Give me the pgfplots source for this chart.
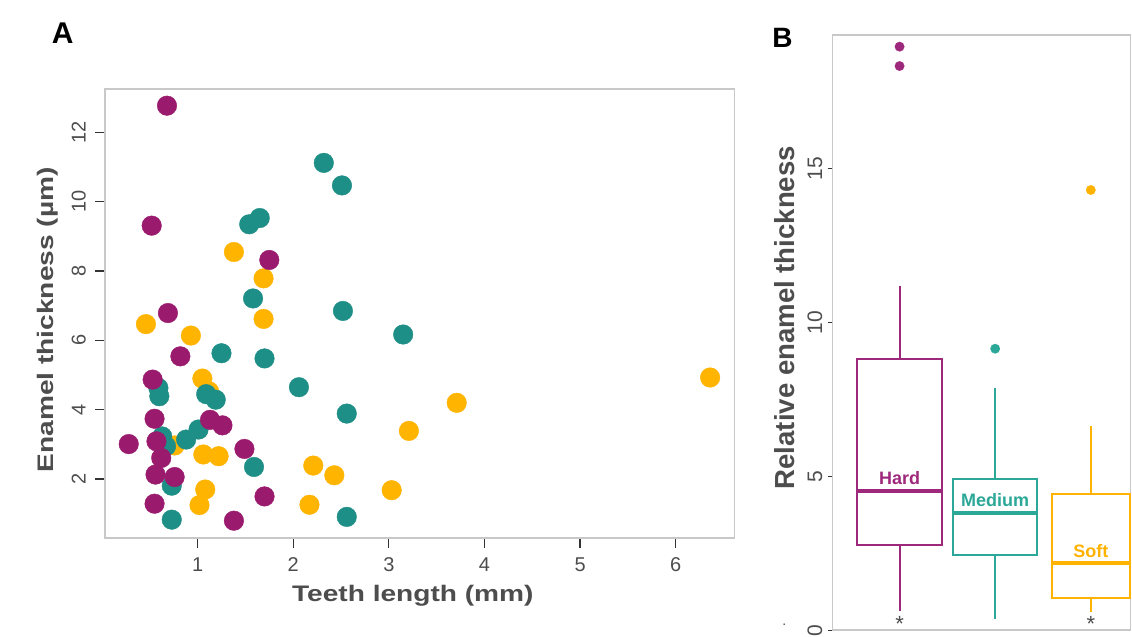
\documentclass[border=0pt]{standalone}
\usepackage{fontspec}
\setmainfont{Liberation Sans}
\newfontfamily\titlefont[FakeStretch=1.25]{Liberation Sans}
\usepackage{pgfplots}
\pgfplotsset{compat=1.18}
\usepgfplotslibrary{statistics}
\definecolor{hardA}{HTML}{9A1A6E}
\definecolor{medA}{HTML}{1E8F87}
\definecolor{softA}{HTML}{FFB400}
\definecolor{hardB}{HTML}{9E287B}
\definecolor{medB}{HTML}{2BA897}
\definecolor{softB}{HTML}{FFB300}
\definecolor{framegray}{HTML}{C8C8C8}
\definecolor{textgray}{HTML}{4D4D4D}
\definecolor{tickcol}{HTML}{333333}

\begin{document}
\begin{tikzpicture}
\fill[white] (0pt,0pt) rectangle (1132pt,637pt);
\node[font=\bfseries\fontsize{30}{30}\selectfont] at (62.7pt,603.7pt) {A};
\node[font=\bfseries\fontsize{28}{28}\selectfont] at (783pt,599.3pt) {B};

% ---------------- Panel A ----------------
\begin{axis}[
  at={(105.3pt,98.7pt)}, anchor=south west, scale only axis,
  width=629.6pt, height=449pt,
  xmin=0.034, xmax=6.613, ymin=0.305, ymax=13.245,
  axis line style={draw=framegray, line width=1.5pt},
  tick align=outside, major tick length=10pt, tick pos=left,
  tick style={tickcol, line width=1.3pt},
  xtick={1,2,3,4,5,6}, ytick={2,4,6,8,10,12},
  /pgf/number format/assume math mode=true,
  ticklabel style={font=\fontsize{20}{20}\selectfont, text=textgray, inner sep=0pt},
  xticklabel style={anchor=north, yshift=-10pt},
  yticklabel style={xshift=-9.3pt, rotate=90, anchor=south},
  xlabel={Teeth length (mm)},
  ylabel={Enamel thickness (µm)},
  label style={font=\titlefont\bfseries\fontsize{22.5}{24}\selectfont, text=textgray, inner sep=0pt},
  xlabel style={at={(axis description cs:0.489,-0.1425)}, anchor=base},
  ylabel style={at={(axis description cs:-0.0815,0.486)}, anchor=base},
]
\addplot[only marks, mark=*, mark size=9.8pt, color=softA] coordinates {
(1.38,8.55) (1.69,7.79) (1.69,6.62) (0.46,6.47) (0.93,6.14) (1.05,4.90) (1.12,4.53)
(3.71,4.20) (3.21,3.39) (0.76,2.97) (1.06,2.71) (1.22,2.66) (2.21,2.39) (2.43,2.11)
(1.08,1.70) (3.03,1.68) (1.02,1.25) (2.17,1.26) (6.36,4.93)
};
\addplot[only marks, mark=*, mark size=9.8pt, color=medA] coordinates {
(2.32,11.12) (2.51,10.47) (1.54,9.35) (1.65,9.53) (1.58,7.21) (2.52,6.85) (3.15,6.17)
(1.25,5.63) (1.70,5.48) (0.59,4.63) (0.60,4.39) (1.09,4.45) (1.19,4.29) (2.06,4.65)
(2.56,3.89) (1.01,3.43) (0.88,3.14) (0.63,3.23) (0.67,2.95) (1.59,2.35) (0.73,1.81)
(0.73,0.83) (2.56,0.91)
};
\addplot[only marks, mark=*, mark size=9.8pt, color=hardA] coordinates {
(0.68,12.77) (0.52,9.31) (1.75,8.32) (0.69,6.79) (0.82,5.54) (0.53,4.87) (0.55,3.74)
(1.13,3.71) (1.26,3.55) (0.28,3.01) (0.57,3.09) (0.62,2.61) (1.49,2.87) (0.56,2.13)
(0.76,2.06) (0.55,1.29) (1.70,1.50) (1.38,0.80)
};
\end{axis}

% ---------------- Panel B ----------------
\begin{axis}[
  at={(833.3pt,6.3pt)}, anchor=south west, scale only axis,
  width=298pt, height=595.7pt,
  xmin=0.3, xmax=3.414, ymin=0, ymax=19.35,
  clip=false,
  axis line style={draw=framegray, line width=1.5pt},
  tick align=outside, major tick length=5pt, tick pos=left,
  tick style={tickcol, line width=1.3pt},
  xtick=\empty, ytick={0,5,10,15},
  /pgf/number format/assume math mode=true,
  ticklabel style={font=\fontsize{21}{21}\selectfont, text=textgray, inner sep=0pt},
  yticklabel style={xshift=-5pt, rotate=90, anchor=south},
  ylabel={Relative enamel thickness},
  label style={font=\bfseries\fontsize{27.6}{28}\selectfont, text=textgray, inner sep=0pt},
  ylabel style={at={(axis description cs:-0.1285,0.525)}, anchor=base},
  boxplot/draw direction=y,
]
\addplot[boxplot prepared={draw position=1, median=4.52, upper quartile=8.83,
  lower quartile=2.78, upper whisker=11.2, lower whisker=0.62, box extend=0.88, whisker extend=0},
  draw=hardB, line width=2pt, mark=*, mark size=4.8pt, mark options={fill=hardB, draw=hardB, line width=0.1pt},
  boxplot/every median/.style={line width=4pt}]
  coordinates {(1,18.97) (1,18.34)};
\addplot[boxplot prepared={draw position=2, median=3.81, upper quartile=4.90,
  lower quartile=2.46, upper whisker=7.87, lower whisker=0.37, box extend=0.88, whisker extend=0},
  draw=medB, line width=2pt, mark=*, mark size=4.8pt, mark options={fill=medB, draw=medB, line width=0.1pt},
  boxplot/every median/.style={line width=4pt}]
  coordinates {(2,9.15)};
\addplot[boxplot prepared={draw position=3, median=2.18, upper quartile=4.44,
  lower quartile=1.06, upper whisker=6.63, lower whisker=0.59, box extend=0.82, whisker extend=0},
  draw=softB, line width=2pt, mark=*, mark size=4.8pt, mark options={fill=softB, draw=softB, line width=0.1pt},
  boxplot/every median/.style={line width=4pt}]
  coordinates {(3,14.31)};
\node[font=\bfseries\fontsize{18}{18}\selectfont, text=hardB] at (axis cs:1,4.95) {Hard};
\node[font=\bfseries\fontsize{18}{18}\selectfont, text=medB] at (axis cs:2,4.22) {Medium};
\node[font=\bfseries\fontsize{18}{18}\selectfont, text=softB] at (axis cs:3,2.57) {Soft};
\node[font=\fontsize{22}{22}\selectfont, text=textgray, anchor=base, inner sep=0pt] at (axis cs:1,-0.049) {*};
\node[font=\fontsize{22}{22}\selectfont, text=textgray, anchor=base, inner sep=0pt] at (axis cs:3,-0.049) {*};
\end{axis}
\node[font=\fontsize{14}{14}\selectfont, text=textgray, inner sep=0pt] at (785pt,12pt) {.};
\end{tikzpicture}
\end{document}
